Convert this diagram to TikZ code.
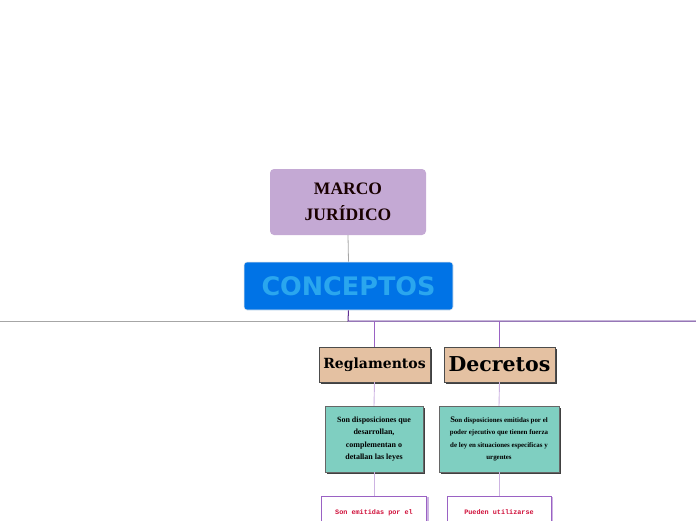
\documentclass[tikz,border=0pt]{standalone}
\usepackage{fontspec}
\setmainfont{Liberation Serif}
\newfontfamily\headfont{DejaVu Sans}
\newfontfamily\toyfont{DejaVu Serif}
\newfontfamily\typefont{Liberation Mono}
\usetikzlibrary{shadows}
\definecolor{lilac}{HTML}{C4A9D4}
\definecolor{azure}{HTML}{0073E6}
\definecolor{skytext}{HTML}{2AA6EE}
\definecolor{tan}{HTML}{E4C1A2}
\definecolor{teal}{HTML}{7FCFC1}
\definecolor{plum}{HTML}{5E2E91}
\definecolor{orchid}{HTML}{9A62C4}
\definecolor{lavender}{HTML}{CDB3E2}
\definecolor{crimson}{HTML}{D0103A}
\definecolor{rule}{HTML}{A6A6A6}

\begin{document}
\begin{tikzpicture}[x=1pt,y=1pt,
 title/.style={fill=lilac,rounded corners=4pt,align=center,minimum width=156pt,minimum height=66pt,text=black!90!red,font=\fontsize{17.5}{26}\selectfont\bfseries},
 main/.style={fill=azure,draw=white!85!gray,line width=0.6pt,rounded corners=3pt,minimum width=209pt,minimum height=48pt,text=skytext,font=\headfont\fontsize{25.5}{28}\selectfont\bfseries},
 topic/.style={fill=tan,draw=black!70,line width=0.4pt,minimum width=111pt,minimum height=35pt,inner sep=0pt,
  drop shadow={shadow xshift=2pt,shadow yshift=-2pt,fill=black!75,opacity=1}},
 idea/.style={fill=teal,draw=black!60,line width=0.4pt,minimum height=66pt,align=center,inner sep=2pt,font=\bfseries,
  drop shadow={shadow xshift=2pt,shadow yshift=-2pt,fill=black!75,opacity=1}},
 note/.style={fill=white,draw=orchid,line width=0.5pt,anchor=north,inner ysep=10pt,text height=8pt,text depth=30pt,
  text=crimson,font=\typefont\fontsize{6.8}{8}\selectfont\bfseries,
  drop shadow={shadow xshift=2pt,shadow yshift=-1pt,fill=lavender,opacity=1}}]
\useasboundingbox (0,0) rectangle (696,-520);
\clip (0,0) rectangle (696,-520);
\coordinate (lft) at (0,-321);
\coordinate (jc) at (348,-321);
\coordinate (rgt) at (696,-321);
\node[title] (marco) at (348,-202) {MARCO\\JURÍDICO};
\node[main] (conc) at (348.5,-286) {CONCEPTOS};
\node[topic,font=\toyfont\fontsize{14}{16}\selectfont\bfseries] (reg) at (374.5,-364.5) {Reglamentos};
\node[topic,font=\toyfont\fontsize{20.5}{22}\selectfont\bfseries] (dec) at (499.5,-364.5) {Decretos};
\node[idea,minimum width=98pt,font=\fontsize{8}{12.5}\selectfont\bfseries] (regtxt) at (374,-439)
 {Son disposiciones que\\desarrollan,\\complementan o\\detallan las leyes};
\node[idea,minimum width=120pt,font=\fontsize{6.9}{12.3}\selectfont\bfseries] (dectxt) at (499,-439)
 {{\fontsize{8.5}{12.3}\selectfont S}on disposiciones emitidas por el\\poder ejecutivo que tienen fuerza\\de ley en situaciones especificas y\\urgentes};
\node[note,minimum width=105pt] (regnote) at (374,-496) {Son emitidas por el};
\node[note,minimum width=104pt] (decnote) at (499,-496) {Pueden utilizarse};
\draw[rule,line width=0.8pt] (marco.south)--(conc.north);
\draw[rule,line width=0.8pt] (lft)--(jc);
\draw[plum,line width=1pt] (conc.south)--(jc)--(rgt);
\draw[orchid,line width=0.9pt,rounded corners=2pt] (reg.north |- jc)--(reg.north);
\draw[orchid,line width=0.9pt,rounded corners=2pt] (dec.north |- jc)--(dec.north);
\draw[lavender,line width=0.9pt] (reg.south)--(regtxt.north);
\draw[lavender,line width=0.9pt] (dec.south)--(dectxt.north);
\draw[lavender,line width=0.9pt] (regtxt.south)--(regnote.north);
\draw[lavender,line width=0.9pt] (dectxt.south)--(decnote.north);
\end{tikzpicture}
\end{document}
